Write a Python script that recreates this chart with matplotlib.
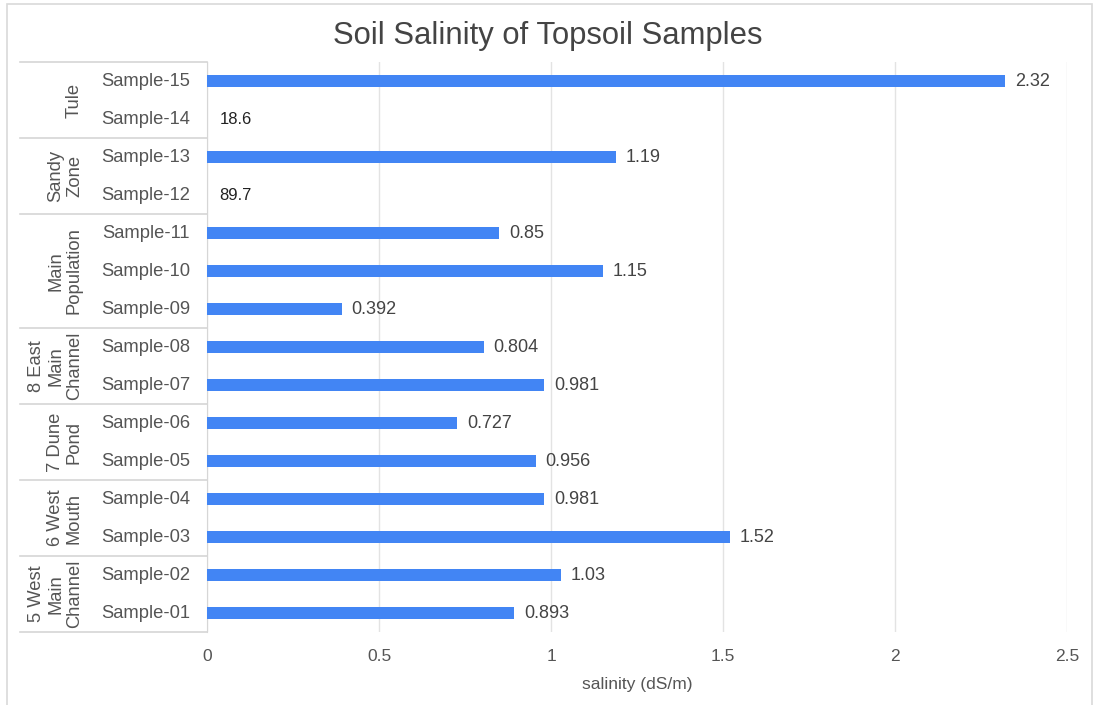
import numpy as np
import matplotlib
matplotlib.use("Agg")
import matplotlib.pyplot as plt
from matplotlib.patches import Rectangle

plt.rcParams["font.family"] = ["Liberation Sans", "DejaVu Sans"]

# data, bottom to top
SAMPLES = [
    "Sample-01", "Sample-02", "Sample-03", "Sample-04", "Sample-05",
    "Sample-06", "Sample-07", "Sample-08", "Sample-09", "Sample-10",
    "Sample-11", "Sample-12", "Sample-13", "Sample-14", "Sample-15",
]
SALINITY = [
    0.893, 1.03, 1.52, 0.981, 0.956,
    0.727, 0.981, 0.804, 0.392, 1.15,
    0.85, np.nan, 1.19, np.nan, 2.32,
]
# labels shown where no bar is drawn
MISSING_LABELS = {"Sample-12": "89.7", "Sample-14": "18.6"}

GROUPS = [
    "5 West\nMain\nChannel", "6 West\nMouth", "7 Dune\nPond",
    "8 East\nMain\nChannel", "Main\nPopulation", "Sandy\nZone", "Tule",
]
GROUP_SIZES = [2, 2, 2, 2, 3, 2, 2]

X_TICKS = [0, 0.5, 1, 1.5, 2, 2.5]
X_TICK_LABELS = ["0", "0.5", "1", "1.5", "2", "2.5"]

BAR_COLOR = "#4285F4"
TEXT_COLOR = "#555555"
LINE_COLOR = "#d6d6d6"
GRID_COLOR = "#e3e3e3"

W, H = 1095, 705
fig = plt.figure(figsize=(W / 100, H / 100), dpi=100)
ax = fig.add_axes([207 / W, 1 - 632 / H, 860 / W, 570 / H])

# outer frame of the chart
fig.patches.append(Rectangle((7 / W, -0.02), 1085 / W, 1.02 - 4 / H,
                             transform=fig.transFigure, fill=False,
                             edgecolor="#d9d9d9", linewidth=1.2))

y = np.arange(len(SAMPLES))
vals = np.nan_to_num(np.array(SALINITY), nan=0.0)
ax.barh(y, vals, height=0.32, color=BAR_COLOR, zorder=3)

for i, (name, v) in enumerate(zip(SAMPLES, SALINITY)):
    if np.isnan(v):
        ax.annotate(MISSING_LABELS[name], (0, i), xytext=(9, 0),
                    textcoords="offset points", ha="left", va="center",
                    fontsize=12, color="#222222")
    else:
        ax.annotate(f"{v:g}", (v, i), xytext=(7, 0),
                    textcoords="offset points", ha="left", va="center",
                    fontsize=13, color="#444444")

ax.set_xlim(0, 2.5)
ax.set_ylim(-0.5, len(SAMPLES) - 0.5)
ax.set_xticks(X_TICKS)
ax.set_xticklabels(X_TICK_LABELS, fontsize=12.5, color=TEXT_COLOR)
ax.tick_params(axis="x", length=0, pad=12.5)
ax.set_yticks([])
for s in ["top", "right", "bottom"]:
    ax.spines[s].set_visible(False)
ax.spines["left"].set_color(LINE_COLOR)
ax.grid(axis="x", color=GRID_COLOR, linewidth=1, zorder=0)
ax.set_axisbelow(True)
ax.set_xlabel("salinity (dS/m)", fontsize=12.5, color=TEXT_COLOR, labelpad=9)

# category table on the left
tr = matplotlib.transforms.blended_transform_factory(ax.transAxes, ax.transData)
left_edge = (20 - 207) / 860
for i, name in enumerate(SAMPLES):
    ax.text((190 - 207) / 860, i, name, transform=tr, ha="right", va="center",
            fontsize=13.2, color=TEXT_COLOR)

bounds = np.concatenate([[0], np.cumsum(GROUP_SIZES)]) - 0.5
for b in bounds:
    ax.plot([left_edge, 0], [b, b], transform=tr, color=LINE_COLOR,
            linewidth=1.2, clip_on=False)
for g, lo, hi in zip(GROUPS, bounds[:-1], bounds[1:]):
    ax.text((83 - 207) / 860, (lo + hi) / 2, g, transform=tr, rotation=90,
            ha="right", va="center", multialignment="center",
            fontsize=13.2, color=TEXT_COLOR, linespacing=1.15)

fig.text(0.5, 1 - 36 / H, "Soil Salinity of Topsoil Samples", ha="center",
         va="center", fontsize=22.3, color="#444444")

fig.savefig("out.png", dpi=100)
